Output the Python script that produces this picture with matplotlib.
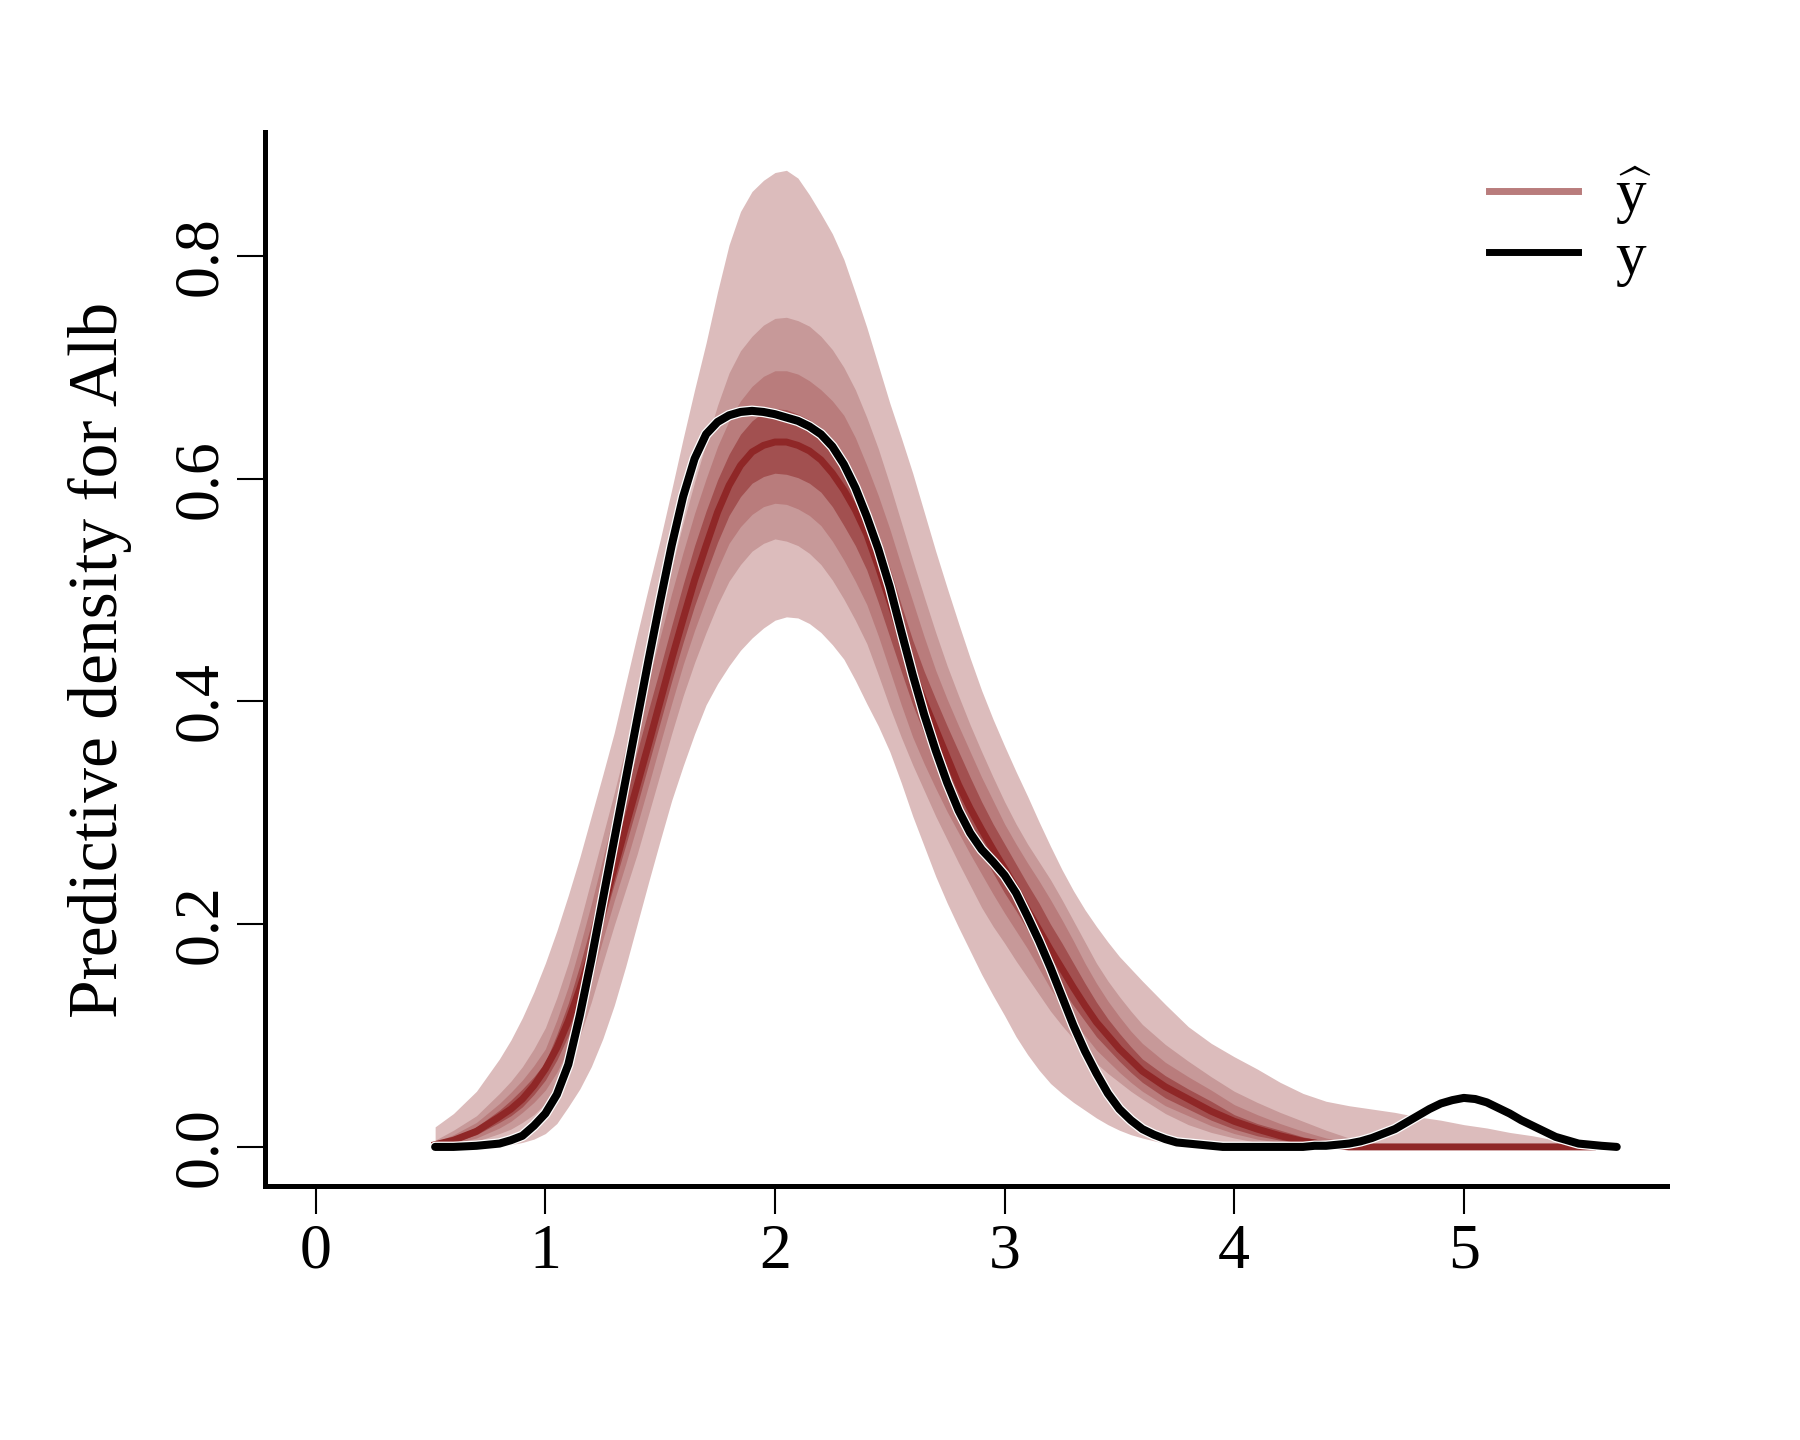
import matplotlib
matplotlib.use("Agg")
import matplotlib.pyplot as plt
import matplotlib.patheffects as pe
from matplotlib.lines import Line2D

# x positions of the predictive bands
x_band = [0.52, 0.6, 0.7,
          0.8, 0.85, 0.9, 0.95, 1.0, 1.05, 1.1, 1.15, 1.2, 1.25,
          1.3, 1.35, 1.4, 1.45, 1.5, 1.55, 1.6, 1.65, 1.7, 1.75,
          1.8, 1.85, 1.9, 1.95, 2.0, 2.05, 2.1, 2.15, 2.2, 2.25,
          2.3, 2.35, 2.4, 2.45, 2.5, 2.55, 2.6, 2.65, 2.7, 2.75,
          2.8, 2.85, 2.9, 2.95, 3.0, 3.05, 3.1, 3.15, 3.2, 3.25,
          3.3, 3.35, 3.4, 3.45, 3.5, 3.55, 3.6,
          3.7, 3.8, 3.9, 4.0, 4.1, 4.2, 4.3, 4.4, 4.5, 4.6,
          4.7, 4.8, 4.9, 5.0, 5.1, 5.2, 5.3, 5.4, 5.5, 5.56]

# quantiles of the predictive density (10% ... 90%)
q90 = [0.018, 0.030, 0.050,
       0.079, 0.096, 0.116, 0.139, 0.165, 0.194, 0.226, 0.260, 0.297, 0.334,
       0.372, 0.416, 0.460, 0.503, 0.545, 0.590, 0.636, 0.680, 0.722, 0.768,
       0.810, 0.840, 0.858, 0.868, 0.875, 0.877, 0.870, 0.855, 0.838, 0.820,
       0.797, 0.767, 0.736, 0.702, 0.668, 0.637, 0.605, 0.570, 0.535, 0.502,
       0.470, 0.439, 0.410, 0.384, 0.360, 0.337, 0.315, 0.292, 0.270, 0.249,
       0.230, 0.213, 0.198, 0.184, 0.171, 0.160, 0.149,
       0.128, 0.108, 0.093, 0.081, 0.070, 0.058, 0.048, 0.041, 0.037, 0.034,
       0.031, 0.027, 0.024, 0.020, 0.017, 0.013, 0.010, 0.006, 0.002, 0.000]
q80 = [0.006, 0.015, 0.028,
       0.048, 0.059, 0.072, 0.088, 0.107, 0.134, 0.165, 0.201, 0.240, 0.279,
       0.318, 0.359, 0.400, 0.440, 0.480, 0.520, 0.560, 0.597, 0.632, 0.666,
       0.695, 0.715, 0.728, 0.738, 0.744, 0.745, 0.742, 0.737, 0.728, 0.716,
       0.700, 0.680, 0.655, 0.627, 0.595, 0.561, 0.527, 0.494, 0.462, 0.432,
       0.405, 0.379, 0.355, 0.332, 0.310, 0.290, 0.272, 0.256, 0.240, 0.222,
       0.203, 0.184, 0.165, 0.149, 0.135, 0.122, 0.110,
       0.092, 0.077, 0.063, 0.050, 0.040, 0.031, 0.023, 0.015, 0.008, 0.002,
       0.0, 0.0, 0.0, 0.0, 0.0, 0.0, 0.0, 0.0, 0.0, 0.0]
q70 = [0.004, 0.011, 0.022,
       0.039, 0.049, 0.060, 0.073, 0.088, 0.114, 0.144, 0.180, 0.218, 0.259,
       0.300, 0.341, 0.381, 0.420, 0.458, 0.497, 0.534, 0.569, 0.600, 0.629,
       0.652, 0.670, 0.683, 0.692, 0.697, 0.697, 0.694, 0.688, 0.680, 0.670,
       0.657, 0.637, 0.612, 0.585, 0.555, 0.522, 0.490, 0.458, 0.428, 0.402,
       0.378, 0.355, 0.332, 0.311, 0.290, 0.272, 0.255, 0.239, 0.222, 0.204,
       0.185, 0.165, 0.147, 0.131, 0.117, 0.104, 0.093,
       0.076, 0.063, 0.051, 0.038, 0.029, 0.021, 0.014, 0.008, 0.004, 0.001,
       0.0, 0.0, 0.0, 0.0, 0.0, 0.0, 0.0, 0.0, 0.0, 0.0]
q60 = [0.003, 0.008, 0.018,
       0.033, 0.042, 0.052, 0.063, 0.076, 0.101, 0.129, 0.163, 0.200, 0.239,
       0.278, 0.317, 0.355, 0.393, 0.430, 0.468, 0.505, 0.540, 0.571, 0.599,
       0.622, 0.640, 0.652, 0.660, 0.663, 0.662, 0.658, 0.653, 0.646, 0.634,
       0.620, 0.600, 0.575, 0.549, 0.520, 0.487, 0.455, 0.427, 0.402, 0.378,
       0.355, 0.332, 0.310, 0.290, 0.272, 0.254, 0.236, 0.219, 0.200, 0.183,
       0.165, 0.147, 0.130, 0.115, 0.102, 0.090, 0.079,
       0.064, 0.052, 0.041, 0.029, 0.021, 0.015, 0.009, 0.005, 0.002, 0.0,
       0.0, 0.0, 0.0, 0.0, 0.0, 0.0, 0.0, 0.0, 0.0, 0.0]
q50 = [0.002, 0.006, 0.014,
       0.027, 0.034, 0.043, 0.055, 0.070, 0.089, 0.113, 0.142, 0.175, 0.212,
       0.250, 0.288, 0.325, 0.362, 0.400, 0.438, 0.474, 0.509, 0.540, 0.570,
       0.594, 0.612, 0.624, 0.630, 0.633, 0.633, 0.630, 0.625, 0.617, 0.605,
       0.590, 0.572, 0.550, 0.521, 0.490, 0.458, 0.427, 0.400, 0.375, 0.350,
       0.325, 0.304, 0.285, 0.267, 0.250, 0.232, 0.213, 0.195, 0.177, 0.160,
       0.143, 0.127, 0.112, 0.100, 0.088, 0.078, 0.068,
       0.054, 0.043, 0.032, 0.023, 0.016, 0.010, 0.005, 0.002, 0.0, 0.0,
       0.0, 0.0, 0.0, 0.0, 0.0, 0.0, 0.0, 0.0, 0.0, 0.0]
q40 = [0.001, 0.004, 0.011,
       0.022, 0.028, 0.036, 0.047, 0.060, 0.078, 0.100, 0.130, 0.164, 0.200,
       0.236, 0.271, 0.307, 0.344, 0.381, 0.418, 0.453, 0.486, 0.515, 0.543,
       0.567, 0.584, 0.596, 0.602, 0.605, 0.604, 0.601, 0.596, 0.588, 0.575,
       0.558, 0.540, 0.518, 0.489, 0.458, 0.427, 0.397, 0.371, 0.347, 0.324,
       0.302, 0.283, 0.265, 0.246, 0.228, 0.212, 0.195, 0.176, 0.158, 0.142,
       0.127, 0.113, 0.099, 0.088, 0.077, 0.067, 0.058,
       0.044, 0.034, 0.024, 0.016, 0.010, 0.006, 0.003, 0.001, 0.0, 0.0,
       0.0, 0.0, 0.0, 0.0, 0.0, 0.0, 0.0, 0.0, 0.0, 0.0]
q30 = [0.001, 0.003, 0.008,
       0.017, 0.023, 0.031, 0.040, 0.051, 0.067, 0.088, 0.117, 0.150, 0.186,
       0.221, 0.254, 0.289, 0.325, 0.362, 0.398, 0.433, 0.464, 0.492, 0.519,
       0.542, 0.557, 0.568, 0.575, 0.578, 0.577, 0.573, 0.567, 0.558, 0.544,
       0.527, 0.508, 0.487, 0.459, 0.428, 0.397, 0.368, 0.344, 0.322, 0.301,
       0.282, 0.263, 0.245, 0.227, 0.210, 0.194, 0.178, 0.160, 0.142, 0.127,
       0.113, 0.100, 0.087, 0.077, 0.067, 0.058, 0.050,
       0.037, 0.028, 0.019, 0.012, 0.007, 0.004, 0.001, 0.0, 0.0, 0.0,
       0.0, 0.0, 0.0, 0.0, 0.0, 0.0, 0.0, 0.0, 0.0, 0.0]
q20 = [0.000, 0.002, 0.005,
       0.012, 0.016, 0.022, 0.029, 0.039, 0.053, 0.072, 0.099, 0.130, 0.165,
       0.199, 0.231, 0.263, 0.299, 0.335, 0.371, 0.405, 0.435, 0.462, 0.487,
       0.508, 0.523, 0.535, 0.542, 0.546, 0.544, 0.540, 0.533, 0.523, 0.509,
       0.492, 0.473, 0.452, 0.424, 0.395, 0.368, 0.343, 0.320, 0.297, 0.276,
       0.255, 0.235, 0.215, 0.198, 0.183, 0.167, 0.152, 0.137, 0.122, 0.109,
       0.097, 0.086, 0.075, 0.066, 0.058, 0.050, 0.043,
       0.030, 0.020, 0.013, 0.008, 0.004, 0.002, 0.0, 0.0, 0.0, 0.0,
       0.0, 0.0, 0.0, 0.0, 0.0, 0.0, 0.0, 0.0, 0.0, 0.0]
q10 = [0.000, 0.000, 0.000,
       0.001, 0.002, 0.004, 0.007, 0.012, 0.021, 0.036, 0.052, 0.072, 0.097,
       0.127, 0.162, 0.200, 0.238, 0.275, 0.311, 0.342, 0.371, 0.397, 0.416,
       0.432, 0.446, 0.457, 0.466, 0.473, 0.476, 0.475, 0.470, 0.462, 0.451,
       0.438, 0.419, 0.398, 0.378, 0.355, 0.327, 0.297, 0.270, 0.243, 0.219,
       0.197, 0.176, 0.155, 0.136, 0.118, 0.099, 0.083, 0.069, 0.057, 0.048,
       0.040, 0.033, 0.026, 0.020, 0.015, 0.011, 0.008,
       0.003, 0.001, 0.0, 0.0, 0.0, 0.0, 0.0, 0.0, 0.0, 0.0,
       0.0, 0.0, 0.0, 0.0, 0.0, 0.0, 0.0, 0.0, 0.0, 0.0]

# observed density
x_obs = [0.52, 0.6, 0.7,
         0.8, 0.85, 0.9, 0.95, 1.0, 1.05, 1.1, 1.15, 1.2, 1.25,
         1.3, 1.35, 1.4, 1.45, 1.5, 1.55, 1.6, 1.65, 1.7, 1.75,
         1.8, 1.85, 1.9, 1.95, 2.0, 2.05, 2.1, 2.15, 2.2, 2.25,
         2.3, 2.35, 2.4, 2.45, 2.5, 2.55, 2.6, 2.65, 2.7, 2.75,
         2.8, 2.85, 2.9, 2.95, 3.0, 3.05, 3.1, 3.15, 3.2, 3.25,
         3.3, 3.35, 3.4, 3.45, 3.5, 3.55, 3.6, 3.65, 3.7, 3.75,
         3.8, 3.85, 3.9, 3.95, 4.0, 4.05, 4.1, 4.15, 4.2, 4.25,
         4.3, 4.35, 4.4, 4.45, 4.5, 4.55, 4.6, 4.65, 4.7, 4.75,
         4.8, 4.85, 4.9, 4.95, 5.0, 5.05, 5.1, 5.15, 5.2, 5.25,
         5.3, 5.35, 5.4, 5.45, 5.5, 5.55, 5.6, 5.666]
y_obs = [0.000, 0.000, 0.001,
         0.003, 0.006, 0.010, 0.019, 0.030, 0.047, 0.074, 0.118, 0.168, 0.222,
         0.276, 0.330, 0.384, 0.438, 0.490, 0.540, 0.584, 0.618, 0.640, 0.651,
         0.657, 0.660, 0.661, 0.660, 0.658, 0.655, 0.652, 0.647, 0.640, 0.629,
         0.613, 0.592, 0.566, 0.537, 0.503, 0.463, 0.424, 0.388, 0.356, 0.327,
         0.302, 0.282, 0.267, 0.256, 0.244, 0.228, 0.207, 0.185, 0.161, 0.135,
         0.109, 0.086, 0.066, 0.048, 0.034, 0.024, 0.016, 0.011, 0.007, 0.004,
         0.003, 0.002, 0.001, 0.000, 0.000, 0.000, 0.000, 0.000, 0.000, 0.000,
         0.000, 0.001, 0.001, 0.002, 0.003, 0.005, 0.008, 0.012, 0.016, 0.022,
         0.028, 0.034, 0.039, 0.042, 0.044, 0.043, 0.040, 0.035, 0.030, 0.024,
         0.019, 0.014, 0.009, 0.006, 0.003, 0.002, 0.001, 0.000]

band_colors = ["#DCBCBC", "#C79999", "#B97C7C", "#A25050"]
median_color = "#8F2727"

plt.rcParams['font.family'] = ['Liberation Serif', 'DejaVu Serif']
plt.rcParams['mathtext.fontset'] = 'custom'
plt.rcParams['mathtext.rm'] = 'Liberation Serif'

fig = plt.figure(figsize=(18, 14.4), dpi=100)
ax = fig.add_axes([265 / 1800, 1 - 1186 / 1440, (1667 - 265) / 1800, (1186 - 132) / 1440])

pairs = [(q10, q90), (q20, q80), (q30, q70), (q40, q60)]
for (lo, hi), c in zip(pairs, band_colors):
    ax.fill_between(x_band, lo, hi, color=c, linewidth=0, zorder=1)
ax.plot(x_band, q50, color=median_color, lw=5, zorder=2)

ax.plot(x_obs, y_obs, color="black", lw=5.8, solid_capstyle="round",
        solid_joinstyle="round", zorder=3,
        path_effects=[pe.Stroke(linewidth=7.6, foreground="white"), pe.Normal()])

ax.set_xlim(-0.221, 5.885)
ax.set_ylim(-0.0351, 0.9114)
for s in ["top", "right"]:
    ax.spines[s].set_visible(False)
for s in ["left", "bottom"]:
    ax.spines[s].set_linewidth(3.6)

ax.set_xticks([0, 1, 2, 3, 4, 5])
ax.set_yticks([0.0, 0.2, 0.4, 0.6, 0.8])
ax.set_yticklabels(["0.0", "0.2", "0.4", "0.6", "0.8"])
ax.tick_params(length=20, width=1.5, labelsize=46, pad=7)
ax.tick_params(axis="y", labelrotation=90, pad=5)
for lab in ax.get_yticklabels():
    lab.set_va("center")

fig.text(100 / 1800, 1 - 660 / 1440, "Predictive density for Alb", rotation=90,
         ha="center", va="center", fontsize=50)

handles = [Line2D([0], [0], color="#B97C7C", lw=5),
           Line2D([0], [0], color="black", lw=5)]
ax.legend(handles, [r"$\widehat{\mathrm{y}}$", "y"], loc="upper left",
          bbox_to_anchor=(0.873, 0.969), frameon=False, fontsize=44,
          handlelength=1.45, handletextpad=0.62, labelspacing=0.06,
          borderpad=0, borderaxespad=0)

fig.savefig("out.png", dpi=100)
